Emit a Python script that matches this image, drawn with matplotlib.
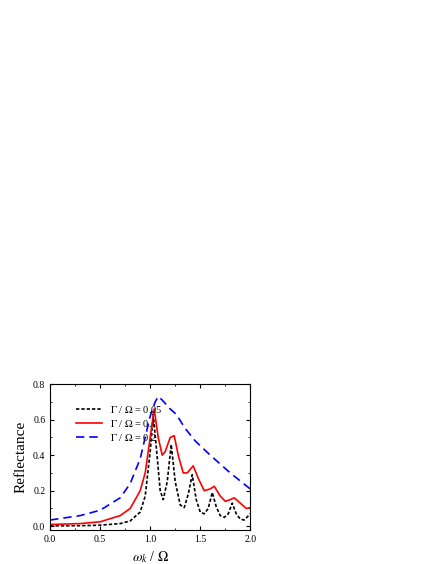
import numpy as np
import matplotlib.pyplot as plt

plt.rcParams["font.family"] = "Liberation Serif"
plt.rcParams["mathtext.fontset"] = "stix"

# Gamma/Omega = 0.05
x_005 = [0, 0.3, 0.5, 0.7, 0.8, 0.9, 0.95, 1.0, 1.03, 1.06, 1.1, 1.13, 1.17, 1.21, 1.25,
         1.3, 1.34, 1.38, 1.42, 1.46, 1.5, 1.54, 1.58, 1.62, 1.66, 1.7, 1.74, 1.78, 1.82,
         1.86, 1.9, 1.94, 2.0]
y_005 = [0.002, 0.003, 0.006, 0.015, 0.03, 0.08, 0.17, 0.42, 0.63, 0.45, 0.2, 0.15, 0.25,
         0.46, 0.25, 0.12, 0.105, 0.18, 0.29, 0.15, 0.08, 0.07, 0.1, 0.19, 0.11, 0.06, 0.05,
         0.07, 0.13, 0.07, 0.04, 0.035, 0.07]

# Gamma/Omega = 0.1
x_01 = [0, 0.3, 0.5, 0.7, 0.8, 0.9, 0.95, 1.0, 1.04, 1.08, 1.12, 1.15, 1.2, 1.24, 1.28,
        1.33, 1.37, 1.43, 1.48, 1.54, 1.6, 1.64, 1.7, 1.75, 1.8, 1.84, 1.9, 1.96, 2.0]
y_01 = [0.01, 0.015, 0.025, 0.06, 0.1, 0.2, 0.3, 0.5, 0.66, 0.5, 0.4, 0.42, 0.5, 0.51, 0.4,
        0.3, 0.3, 0.34, 0.27, 0.2, 0.21, 0.225, 0.17, 0.14, 0.15, 0.16, 0.13, 0.1, 0.105]

# Gamma/Omega = 0.2
x_02 = [0, 0.3, 0.5, 0.7, 0.8, 0.9, 0.95, 1.0, 1.05, 1.08, 1.12, 1.2, 1.26, 1.35, 1.45,
        1.6, 1.8, 2.0]
y_02 = [0.035, 0.06, 0.09, 0.16, 0.24, 0.38, 0.5, 0.62, 0.7, 0.73, 0.71, 0.66, 0.63, 0.55,
        0.48, 0.4, 0.3, 0.21]

fig = plt.figure(figsize=(4.36, 5.64), dpi=100)
ax = fig.add_axes([0.115, 0.06, 0.459, 0.259])

ax.plot(x_005, y_005, color="black", linestyle=(0, (2, 1.2)), linewidth=1.2,
        label=r"$\Gamma$ / $\Omega$ = 0.05")
ax.plot(x_01, y_01, color="red", linewidth=1.2, label=r"$\Gamma$ / $\Omega$ = 0.1")
ax.plot(x_02, y_02, color="blue", linestyle=(0, (5, 3)), linewidth=1.2,
        label=r"$\Gamma$ / $\Omega$ = 0.2")

ax.set_xlim(0, 2)
ax.set_ylim(-0.022, 0.8)
ax.set_xticks([0, 0.5, 1.0, 1.5, 2.0])
ax.set_yticks([0, 0.2, 0.4, 0.6, 0.8])
ax.set_xticks(np.arange(0.25, 2, 0.5), minor=True)
ax.set_yticks(np.arange(0.1, 0.8, 0.2), minor=True)
ax.xaxis.set_major_formatter(plt.FormatStrFormatter("%.1f"))
ax.yaxis.set_major_formatter(plt.FormatStrFormatter("%.1f"))
ax.tick_params(which="both", direction="in", top=True, right=True, labelsize=7)
ax.tick_params(which="major", length=3)
ax.tick_params(which="minor", length=1.5)

ax.set_xlabel(r"$\omega_k$ / $\Omega$", fontsize=10)
ax.set_ylabel("Reflectance", fontsize=11)
ax.legend(loc="upper left", frameon=False, fontsize=7.5, handlelength=2.5,
          labelspacing=0.3, bbox_to_anchor=(0.08, 0.93))

fig.savefig("out.png", dpi=100)
